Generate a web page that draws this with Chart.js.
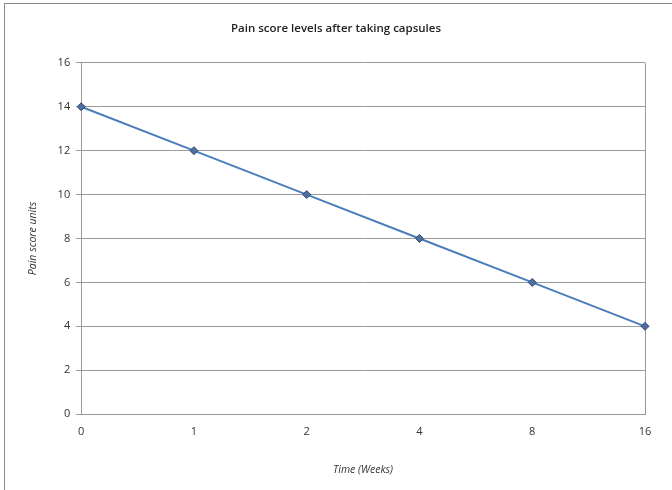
<!DOCTYPE html>
<html>
<head>
<meta charset="utf-8">
<script src="https://cdn.jsdelivr.net/npm/chart.js@4"></script>
<style>
  body { margin: 0; background: #fff; }
  #frame { position: absolute; left: 4px; top: 3px; width: 672px; height: 490px; border-left: 1px solid #8a8a8a; border-top: 1px solid #8a8a8a; }
  canvas { position: absolute; left: 0; top: 0; }
</style>
</head>
<body>
<div id="frame"></div>
<canvas id="painChart" width="672" height="490"></canvas>
<script>
const weeks = ["0", "1", "2", "4", "8", "16"];
const painScores = [14, 12, 10, 8, 6, 4];
const yTicks = [0, 2, 4, 6, 8, 10, 12, 14, 16];

document.addEventListener("DOMContentLoaded", () => {
  const ctx = document.getElementById("painChart").getContext("2d");
  new Chart(ctx, {
    type: "line",
    data: {
      labels: weeks,
      datasets: [
        {
          label: "Pain score",
          data: painScores,
          borderColor: "#4a7ebb",
          borderWidth: 2,
          pointStyle: "rectRot",
          pointRadius: 4,
          pointBackgroundColor: "#4f6f9f",
          pointBorderColor: "#2c4a74",
          pointBorderWidth: 1,
          tension: 0,
        },
      ],
    },
    options: {
      responsive: false,
      animation: false,
      layout: { padding: { left: 27, right: 27, top: 6, bottom: 14 } },
      plugins: {
        legend: { display: false },
        tooltip: { enabled: false },
        title: {
          display: true,
          text: "Pain score levels after taking capsules",
          color: "#222",
          font: { family: "Open Sans", size: 11.5, weight: "600" },
          padding: { top: 16, bottom: 27 },
        },
      },
      scales: {
        x: {
          offset: false,
          grid: {
            color: (c) => (c.index === weeks.length - 1 ? "#9a9a9a" : "rgba(0,0,0,0)"),
            tickLength: 0,
            drawTicks: false,
          },
          border: { color: "#9a9a9a", width: 1 },
          ticks: { color: "#333", font: { family: "Open Sans", size: 11 }, padding: 11 },
          title: {
            display: true,
            text: "Time (Weeks)",
            color: "#333",
            font: { family: "Open Sans", size: 10.5, style: "italic" },
            padding: { top: 14, bottom: 0 },
          },
        },
        y: {
          min: 0,
          max: 16,
          afterBuildTicks: (axis) => {
            axis.ticks = yTicks.map((v) => ({ value: v }));
          },
          grid: { color: "#9a9a9a", tickLength: 5 },
          border: { color: "#9a9a9a", width: 1 },
          ticks: { color: "#333", font: { family: "Open Sans", size: 11 }, padding: 6 },
          title: {
            display: true,
            text: "Pain score units",
            color: "#333",
            font: { family: "Open Sans", size: 10.5, style: "italic" },
            padding: { top: 0, bottom: 12 },
          },
        },
      },
    },
  });
});
</script>
</body>
</html>
